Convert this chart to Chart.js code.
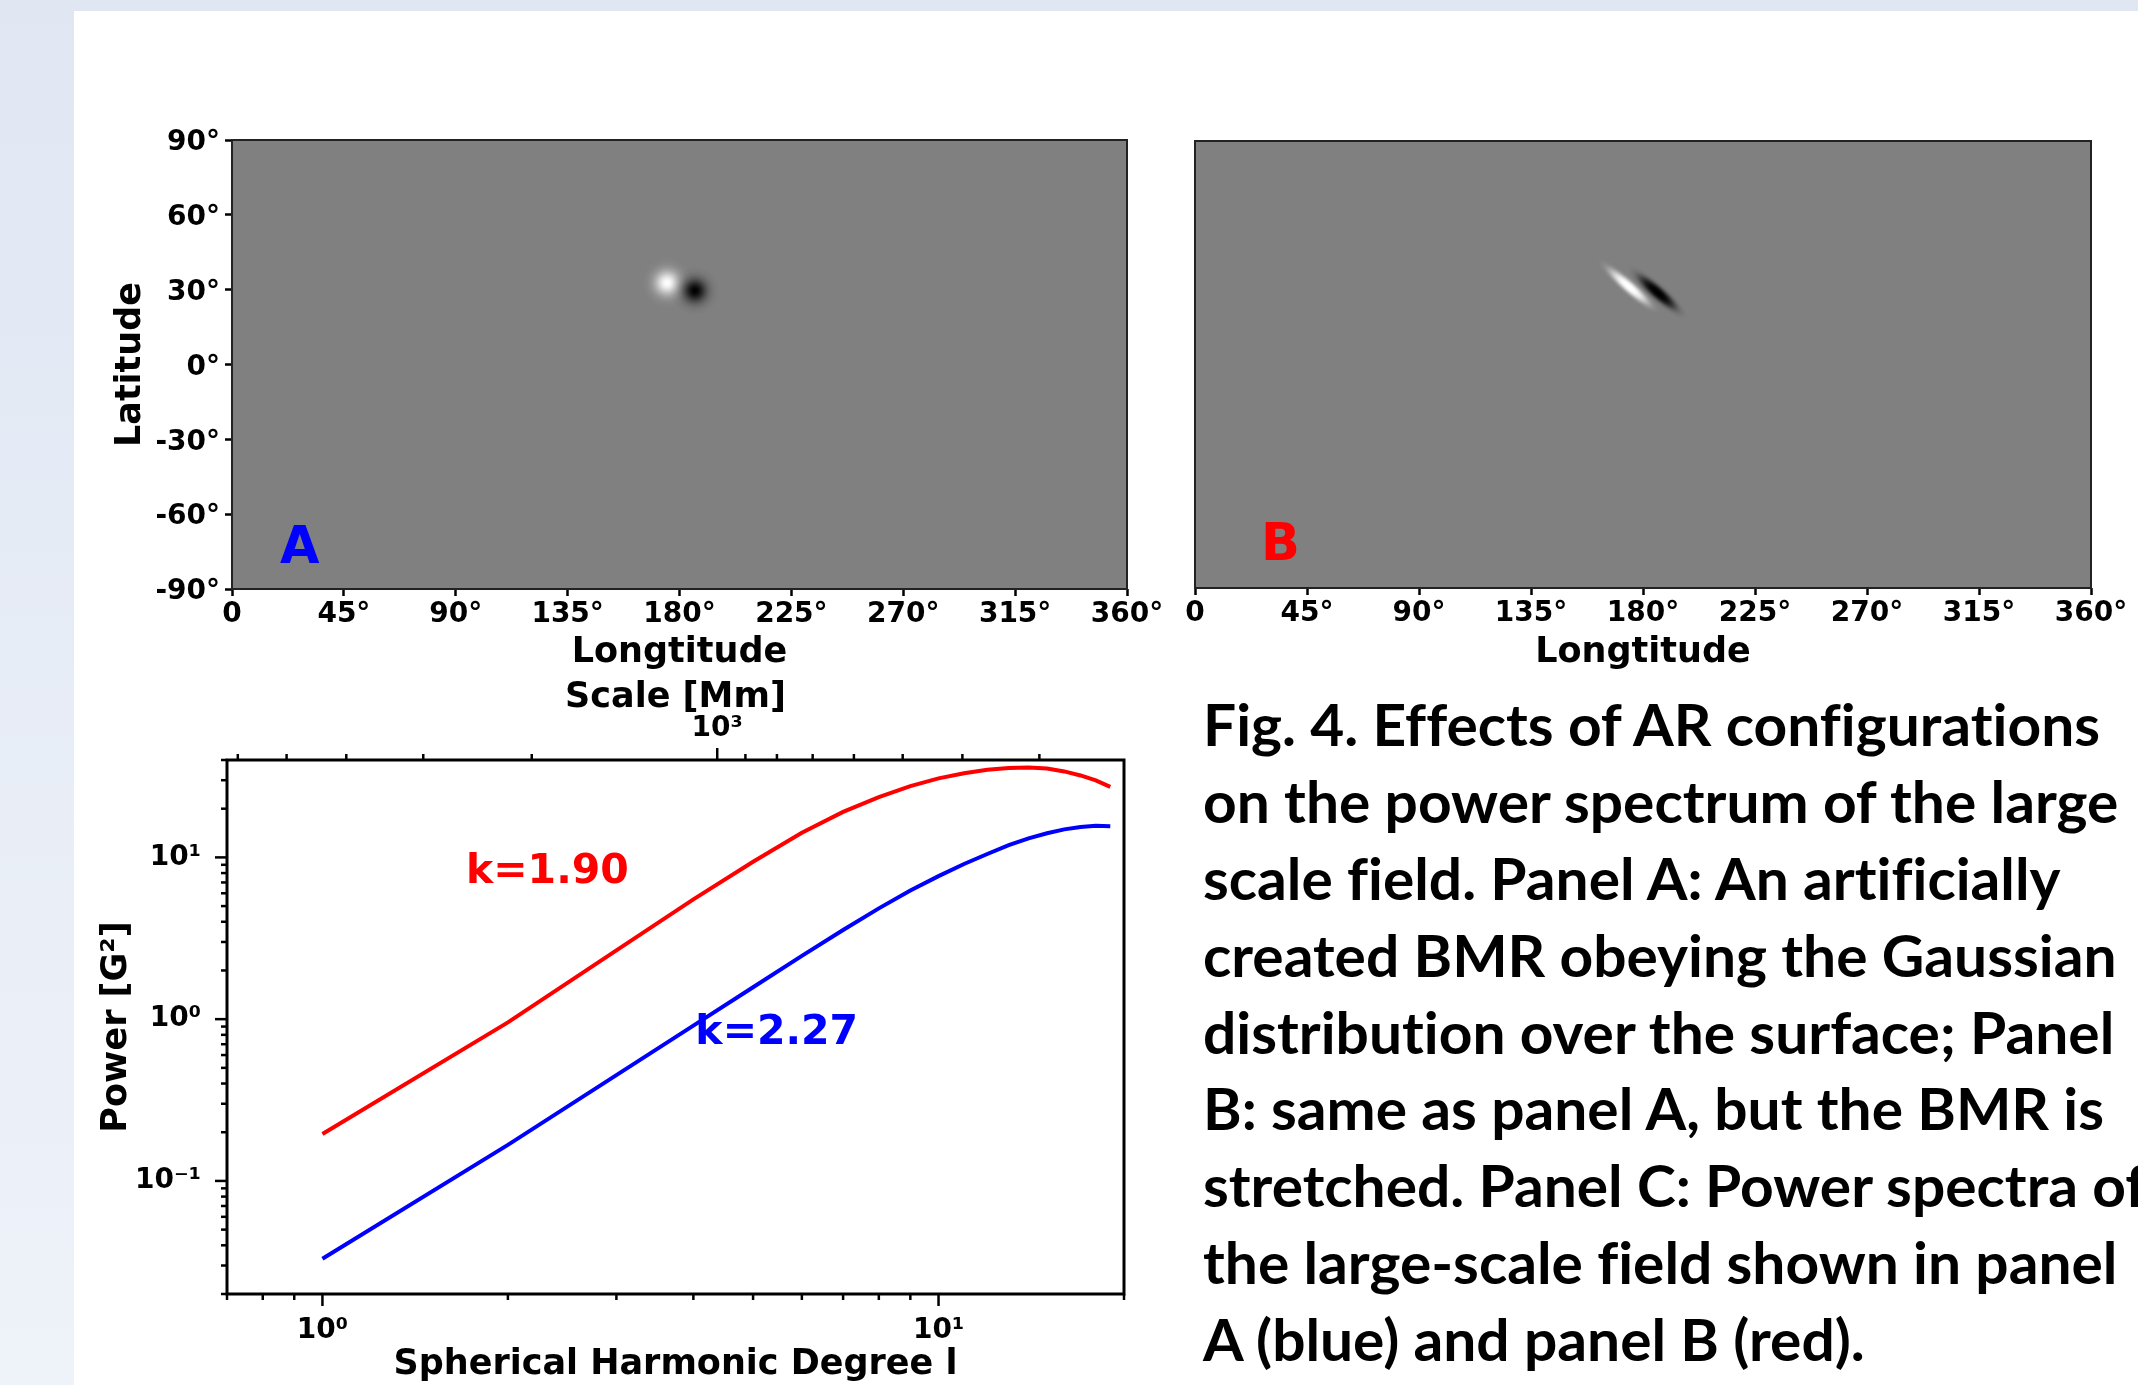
<!DOCTYPE html>
<html>
<head>
<meta charset="utf-8">
<title>Fig. 4 – AR configurations and power spectrum</title>
<script src="https://cdn.jsdelivr.net/npm/chart.js@4.4.1/dist/chart.umd.min.js"></script>
<style>
  html, body { margin: 0; padding: 0; }
  body {
    width: 2138px; height: 1385px; overflow: hidden; position: relative;
    background: linear-gradient(180deg, #e0e7f3 0%, #eef2f9 100%);
  }
  #sheet { position: absolute; left: 74px; top: 11px; width: 2064px; height: 1374px; background: #fff; }
  canvas.panel { position: absolute; }
  #caption {
    position: absolute; left: 1203px; top: 686px; transform-origin: 0 0;
    font-family: 'Lato', 'Open Sans', sans-serif; font-weight: 700; font-size: 57px;
    font-variant-ligatures: none; font-feature-settings: "liga" 0;
    color: #000; white-space: nowrap;
  }
  #caption div { height: 76.9px; line-height: 76.9px; }
</style>
</head>
<body>
<div id="sheet"></div>
<canvas id="mapA" class="panel" width="1120" height="620" style="left:60px;top:100px;width:1120px;height:620px"></canvas>
<canvas id="mapB" class="panel" width="988" height="620" style="left:1150px;top:100px;width:988px;height:620px"></canvas>
<canvas id="spectrum" class="panel" width="1100" height="755" style="left:60px;top:640px;width:1100px;height:755px"></canvas>
<div id="caption"></div>

<script>
/* ============================================================
   Fig. 4 — BMR maps (A, B) and their power spectra (C)
   ============================================================ */

// ── Map data: polarity centres of the bipolar region ─────────
const lonTicks = [0, 45, 90, 135, 180, 225, 270, 315, 360];
const latTicks = [-90, -60, -30, 0, 30, 60, 90];

const bmrLonA = [175.0, 186.2];
const bmrLatA = [32.7, 29.6];
const bmrPolA = ['pos', 'neg'];

const bmrLonB = [174.4, 185.8];
const bmrLatB = [31.3, 29.0];
const bmrPolB = ['pos', 'neg'];
const bmrTiltB = 41;          // degrees, stretched along this direction

// ── Spectrum data ─────────────────────────────────────────────
const degreeL = [1, 2, 3, 4, 5, 6, 7, 8, 9, 10, 11, 12, 13, 14, 15, 16, 17, 18, 19];
const powerB  = [0.195, 0.955, 2.66, 5.5, 9.4, 14.2, 19.1, 23.6, 27.6, 30.8,
                 33.1, 34.8, 35.7, 36.0, 35.4, 34.0, 32.1, 29.9, 27.3];   // red
const powerA  = [0.033, 0.167, 0.451, 0.912, 1.575, 2.46, 3.56, 4.84, 6.24, 7.66,
                 9.1, 10.5, 11.9, 13.1, 14.1, 14.9, 15.4, 15.7, 15.6];    // blue
const slopeTexts = ['k=1.90', 'k=2.27'];

const degreeTicks = [0.7, 0.8, 0.9, 1, 2, 3, 4, 5, 6, 7, 8, 9, 10, 20];
const powerTicks  = [0.02, 0.03, 0.04, 0.05, 0.06, 0.07, 0.08, 0.09,
                     0.1, 0.2, 0.3, 0.4, 0.5, 0.6, 0.7, 0.8, 0.9,
                     1, 2, 3, 4, 5, 6, 7, 8, 9, 10, 20, 30, 40];
const scaleTicksMm = [300, 400, 500, 600, 700, 800, 900, 1000, 2000, 3000, 4000, 5000, 6000];
const SUN_CIRC_MM = 4373;     // 2πR☉, scale = circumference / l

const captionLines = [
  'Fig. 4. Effects of AR configurations',
  'on the power spectrum of the large',
  'scale field. Panel A: An artificially',
  'created BMR obeying the Gaussian',
  'distribution over the surface; Panel',
  'B: same as panel A, but the BMR is',
  'stretched. Panel C: Power spectra of',
  'the large-scale field shown in panel',
  'A (blue) and panel B (red).'
];

// ── Shared style ──────────────────────────────────────────────
const FONT = "'DejaVu Sans', 'Liberation Sans', sans-serif";
const tickFont  = { family: FONT, size: 28, weight: 'bold' };
const titleFont = { family: FONT, size: 35, weight: 'bold' };
Chart.defaults.font.family = FONT;
Chart.defaults.color = '#000';

const SUP = { '-': '⁻', '0': '⁰', '1': '¹', '2': '²', '3': '³', '4': '⁴', '5': '⁵', '6': '⁶', '7': '⁷', '8': '⁸', '9': '⁹' };
const isPow10 = v => Math.abs(Math.log10(v) - Math.round(Math.log10(v))) < 1e-6;
const pow10Label = v => '10' + String(Math.round(Math.log10(v))).split('').map(c => SUP[c]).join('');

const fixSize = (w, h) => scale => {
  if (w != null) scale.width = w;
  if (h != null) scale.height = h;
  scale.paddingLeft = scale.paddingRight = scale.paddingTop = scale.paddingBottom = 0;
};
const useTicks = list => scale => { scale.ticks = list.map(v => ({ value: v })); };

// ── Blob sprites (polarity patches) ───────────────────────────
// profile: 2 = gaussian, higher = flatter core with softer cut
function makeBlob(rgb, rLong, rShort, profile) {
  const c = document.createElement('canvas');
  c.width = Math.ceil(rLong * 2);
  c.height = Math.ceil(rShort * 2);
  const g = c.getContext('2d');
  g.translate(c.width / 2, c.height / 2);
  g.scale(rLong / rShort, 1);
  const grad = g.createRadialGradient(0, 0, 0, 0, 0, rShort);
  for (let i = 0; i <= 24; i++) {
    const t = i / 24;
    grad.addColorStop(t, `rgba(${rgb},${Math.exp(-4.5 * Math.pow(t, profile)).toFixed(4)})`);
  }
  g.fillStyle = grad;
  g.beginPath();
  g.arc(0, 0, rShort, 0, Math.PI * 2);
  g.fill();
  return c;
}
const spritesA = { pos: makeBlob('255,255,255', 25, 25, 2), neg: makeBlob('0,0,0', 24, 24, 2) };
const spritesB = { pos: makeBlob('255,255,255', 40, 8.5, 3), neg: makeBlob('0,0,0', 38, 9.5, 3) };

// ── Map plugin: gray field, frame, panel letter ───────────────
const mapField = {
  id: 'mapField',
  beforeDatasetsDraw(chart) {
    const { ctx, chartArea: a } = chart;
    ctx.save();
    ctx.fillStyle = '#808080';
    ctx.fillRect(a.left, a.top, a.width, a.height);
    ctx.restore();
  },
  afterDatasetsDraw(chart, args, opts) {
    const { ctx, chartArea: a, scales } = chart;
    ctx.save();
    ctx.strokeStyle = '#222';
    ctx.lineWidth = 2;
    ctx.strokeRect(a.left, a.top, a.width, a.height);
    ctx.font = `bold 51px ${FONT}`;
    ctx.fillStyle = opts.color;
    ctx.textBaseline = 'alphabetic';
    ctx.fillText(opts.letter, scales.x.getPixelForValue(opts.lon), scales.y.getPixelForValue(opts.lat));
    ctx.restore();
  }
};

function mapChart(id, lon, lat, pol, sprites, tilt, opts) {
  const ctx = document.getElementById(id).getContext('2d');
  return new Chart(ctx, {
    type: 'scatter',
    data: {
      datasets: [{
        data: lon.map((x, i) => ({ x, y: lat[i] })),
        pointStyle: c => sprites[pol[c.dataIndex]],
        pointRadius: 10,
        rotation: tilt,
      }]
    },
    options: {
      responsive: false,
      devicePixelRatio: 1,
      animation: false,
      events: [],
      layout: { padding: opts.padding },
      plugins: { legend: { display: false }, tooltip: { enabled: false }, mapField: opts.letter },
      scales: {
        x: {
          type: 'linear', min: 0, max: 360,
          afterBuildTicks: useTicks(lonTicks),
          afterFit: fixSize(null, opts.xHeight),
          ticks: { font: tickFont, color: '#000', padding: 2, autoSkip: false, maxRotation: 0,
                   callback: v => v === 0 ? '0' : v + '°' },
          grid: { drawOnChartArea: false, drawTicks: true, tickLength: 7, tickWidth: 2.5, tickColor: '#000' },
          border: { display: false },
          title: { display: true, text: 'Longtitude', font: titleFont, color: '#000', padding: { top: 0, bottom: 46 } }
        },
        y: {
          type: 'linear', min: -90, max: 90,
          display: opts.showY,
          afterBuildTicks: useTicks(latTicks),
          afterFit: fixSize(opts.yWidth, null),
          ticks: { font: tickFont, color: '#000', padding: 5, labelOffset: 3, autoSkip: false, callback: v => v + '°' },
          grid: { drawOnChartArea: false, drawTicks: true, tickLength: 7, tickWidth: 2.5, tickColor: '#000' },
          border: { display: false },
          title: { display: true, text: 'Latitude', font: titleFont, color: '#000', padding: { top: 50, bottom: 0 } }
        }
      }
    },
    plugins: [mapField]
  });
}

mapChart('mapA', bmrLonA, bmrLatA, bmrPolA, spritesA, 0, {
  padding: { top: 40, right: 53, left: 0, bottom: 0 },
  xHeight: 131, yWidth: 172, showY: true,
  letter: { letter: 'A', color: '#0000ff', lon: 19.3, lat: -79.6 }
});
mapChart('mapB', bmrLonB, bmrLatB, bmrPolB, spritesB, bmrTiltB, {
  padding: { top: 41, right: 47, left: 45, bottom: 0 },
  xHeight: 132, yWidth: null, showY: false,
  letter: { letter: 'B', color: '#ff0000', lon: 26.5, lat: -78.7 }
});

// ── Spectrum plugin: log ticks, frame, slope labels ───────────
const logFrame = {
  id: 'logFrame',
  afterDraw(chart, args, opts) {
    const { ctx, chartArea: a, scales } = chart;
    ctx.save();
    ctx.strokeStyle = '#000';
    ctx.lineWidth = 2.5;
    ['x', 'x2', 'y'].forEach(id => {
      const s = scales[id];
      s.ticks.forEach(t => {
        const len = isPow10(t.value) ? 12 : 6;
        const p = s.getPixelForValue(t.value);
        ctx.beginPath();
        if (id === 'x')       { ctx.moveTo(p, a.bottom); ctx.lineTo(p, a.bottom + len); }
        else if (id === 'x2') { ctx.moveTo(p, a.top);    ctx.lineTo(p, a.top - len); }
        else                  { ctx.moveTo(a.left, p);   ctx.lineTo(a.left - len, p); }
        ctx.stroke();
      });
    });
    ctx.lineWidth = 3;
    ctx.strokeRect(a.left, a.top, a.width, a.height);

    ctx.font = `bold 41px ${FONT}`;
    ctx.textBaseline = 'middle';
    opts.labels.forEach(l => {
      ctx.fillStyle = l.color;
      ctx.fillText(l.text, scales.x.getPixelForValue(l.l), scales.y.getPixelForValue(l.p));
    });
    ctx.restore();
  }
};

new Chart(document.getElementById('spectrum').getContext('2d'), {
  type: 'line',
  data: {
    datasets: [
      { label: 'panel B', data: degreeL.map((l, i) => ({ x: l, y: powerB[i] })),
        borderColor: '#ff0000', borderWidth: 4, pointRadius: 0, tension: 0, fill: false },
      { label: 'panel A', data: degreeL.map((l, i) => ({ x: l, y: powerA[i] })),
        borderColor: '#0000ff', borderWidth: 4, pointRadius: 0, tension: 0, fill: false }
    ]
  },
  options: {
    responsive: false,
    devicePixelRatio: 1,
    animation: false,
    events: [],
    layout: { padding: { top: 0, right: 36, left: 0, bottom: 0 } },
    plugins: {
      legend: { display: false }, tooltip: { enabled: false },
      logFrame: { labels: [
        { text: slopeTexts[0], color: '#ff0000', l: 1.71, p: 8.1 },
        { text: slopeTexts[1], color: '#0000ff', l: 4.03, p: 0.82 }
      ] }
    },
    scales: {
      x: {
        type: 'logarithmic', position: 'bottom', min: 0.7, max: 20,
        afterBuildTicks: useTicks(degreeTicks),
        afterFit: fixSize(null, 101),
        ticks: { font: tickFont, color: '#000', padding: 12, autoSkip: false, maxRotation: 0,
                 callback: v => isPow10(v) ? pow10Label(v) : '' },
        grid: { display: false },
        border: { display: false },
        title: { display: true, text: 'Spherical Harmonic Degree l', font: titleFont, color: '#000',
                 padding: { top: 0, bottom: 9 } }
      },
      x2: {
        type: 'logarithmic', position: 'top', reverse: true,
        min: SUN_CIRC_MM / 20, max: SUN_CIRC_MM / 0.7,
        afterBuildTicks: useTicks(scaleTicksMm),
        afterFit: fixSize(null, 120),
        ticks: { font: tickFont, color: '#000', padding: 6, autoSkip: false, maxRotation: 0,
                 callback: v => isPow10(v) ? pow10Label(v) : '' },
        grid: { display: false },
        border: { display: false },
        title: { display: true, text: 'Scale [Mm]', font: titleFont, color: '#000',
                 padding: { top: 37, bottom: 0 } }
      },
      y: {
        type: 'logarithmic', position: 'left', min: 0.02, max: 40,
        afterBuildTicks: useTicks(powerTicks),
        afterFit: fixSize(167, null),
        ticks: { font: tickFont, color: '#000', padding: 18, autoSkip: false,
                 callback: v => isPow10(v) ? pow10Label(v) : '' },
        grid: { display: false },
        border: { display: false },
        title: { display: true, text: 'Power [G²]', font: titleFont, color: '#000',
                 padding: { top: 36, bottom: 0 } }
      }
    }
  },
  plugins: [logFrame]
});

// ── Caption text ──────────────────────────────────────────────
const cap = document.getElementById('caption');
captionLines.forEach(t => {
  const d = document.createElement('div');
  const s = document.createElement('span');
  s.textContent = t;
  d.appendChild(s);
  cap.appendChild(d);
});
const firstW = cap.firstChild.firstChild.getBoundingClientRect().width;
cap.style.transform = `scaleX(${(897 / firstW).toFixed(4)})`;
</script>
</body>
</html>
